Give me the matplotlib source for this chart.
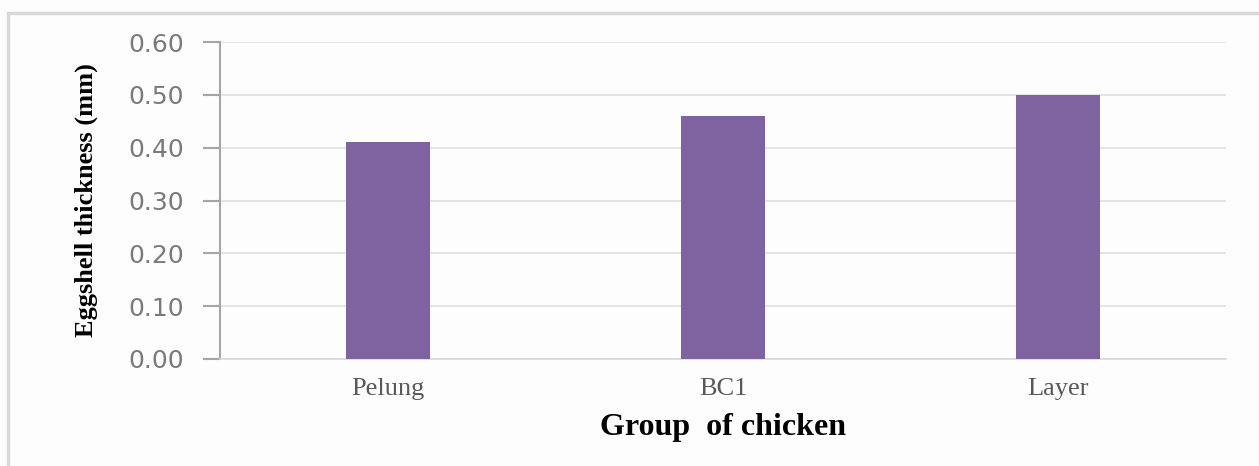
import matplotlib
matplotlib.use("Agg")
import matplotlib.pyplot as plt
from matplotlib.patches import Rectangle

groups = ["Pelung", "BC1", "Layer"]
thickness = [0.41, 0.46, 0.50]
yticks = [0.0, 0.1, 0.2, 0.3, 0.4, 0.5, 0.6]

fig = plt.figure(figsize=(12.59, 4.66), dpi=100)
fig.patch.set_facecolor("#fdfdfd")
# light frame around the chart area
fig.add_artist(Rectangle((8 / 1259, -0.01), 1.05, 1 - 13 / 466 + 0.01,
                         transform=fig.transFigure, fill=False,
                         edgecolor="#d9d9d9", linewidth=2.5))

ax = fig.add_axes([220 / 1259, 1 - 359 / 466, 1006 / 1259, 317 / 466])
ax.set_facecolor("none")
x = range(len(groups))
ax.bar(x, thickness, width=0.25, color="#7f63a1", zorder=3)
ax.set_xlim(-0.5, 2.5)
ax.set_ylim(0, 0.6)
ax.set_yticks(yticks, labels=[f"{v:.2f}" for v in yticks])
ax.set_xticks(list(x), labels=groups)

for s in ["top", "right"]:
    ax.spines[s].set_visible(False)
ax.spines["left"].set_color("#a6a6a6")
ax.spines["left"].set_linewidth(1.5)
ax.spines["bottom"].set_color("#d9d9d9")
ax.spines["bottom"].set_linewidth(1.2)
ax.grid(axis="y", color="#e0e0e0", linewidth=1.2, zorder=0)
ax.tick_params(axis="y", length=12, width=1.5, color="#a6a6a6", pad=14,
               labelsize=18, labelcolor="#7a7a7a")
ax.tick_params(axis="x", length=0, pad=14, labelsize=19, labelcolor="#595959")
for lbl in ax.get_xticklabels():
    lbl.set_fontfamily("Liberation Serif")

ax.set_xlabel("Group  of chicken", fontfamily="Liberation Serif", fontweight="bold",
              fontsize=23, labelpad=9)
ax.set_ylabel("Eggshell thickness (mm)", fontfamily="Liberation Serif",
              fontweight="bold", fontsize=19, labelpad=22)

fig.savefig("out.png", dpi=100, facecolor=fig.get_facecolor())
